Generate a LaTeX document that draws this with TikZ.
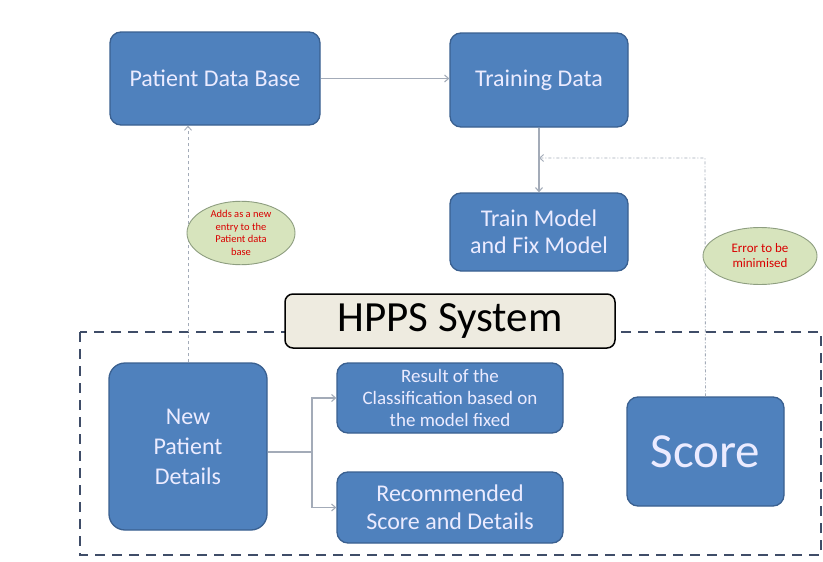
\documentclass[tikz,border=0pt]{standalone}
\usepackage{fontspec}
\setmainfont{Carlito}
\usetikzlibrary{arrows.meta,shapes.geometric}
\definecolor{boxblue}{HTML}{4F81BD}
\definecolor{boxedge}{HTML}{3A6090}
\definecolor{ellfill}{HTML}{D7E4BD}
\definecolor{elledge}{HTML}{8E9E80}
\definecolor{conn}{HTML}{A3ABB8}
\definecolor{frame}{HTML}{3F4D68}
\definecolor{sysfill}{HTML}{EEEBE0}
\tikzset{
  bluebox/.style={draw=boxedge, line width=1.3pt, fill=boxblue, rounded corners=11pt,
    text=white!92!blue, align=center, inner sep=0pt},
  note/.style={ellipse, draw=elledge, line width=0.9pt, fill=ellfill, text=red!85!black,
    align=center, inner sep=0pt},
  conline/.style={draw=conn, line width=1.1pt},
  arr/.style={-{Straight Barb[length=4pt,width=7pt]}},
}
\begin{document}
\begin{tikzpicture}[x=1pt,y=-1pt]
\useasboundingbox (0,0) rectangle (823,562);
\fill[white] (0,0) rectangle (823,562);
% dashed system frame
\draw[frame, line width=2.2pt, dash pattern=on 10pt off 7pt] (80,332) rectangle (821,555);
% nodes
\node[bluebox, minimum width=210, minimum height=93, font=\fontsize{24}{28}\selectfont] (pdb) at (215,78.5) {Patient Data Base};
\node[bluebox, minimum width=178, minimum height=94, font=\fontsize{24}{28}\selectfont] (td) at (539,80) {Training Data};
\node[bluebox, minimum width=178, minimum height=78, font=\fontsize{24}{27}\selectfont] (tm) at (539,232) {Train Model\\and Fix Model};
\node[draw=black, line width=1.5pt, fill=sysfill, rounded corners=8pt, minimum width=330, minimum height=54, inner sep=0pt, font=\fontsize{43}{48}\selectfont] (sys) at (450,321) {HPPS System};
\node[bluebox, minimum width=158, minimum height=167, rounded corners=16pt, font=\fontsize{24}{30}\selectfont] (npd) at (188,446.5) {New\\Patient\\Details};
\node[bluebox, minimum width=226, minimum height=70, font=\fontsize{19}{22}\selectfont] (res) at (450,398) {Result of the\\Classification based on\\the model fixed};
\node[bluebox, minimum width=226, minimum height=71, font=\fontsize{24}{28}\selectfont] (rec) at (450,507.5) {Recommended\\Score and Details};
\node[bluebox, minimum width=157, minimum height=109, font=\fontsize{49}{56}\selectfont] (score) at (705.5,451.5) {Score};
% connectors
\draw[conline, arr] (pdb.east) -- (td.west |- pdb.east);
\draw[conline, arr] (td.south) -- (tm.north);
\coordinate (split) at (312,452);
\draw[conline] (npd.east |- split) -- (split);
\draw[conline, arr] (split) |- (res.west);
\draw[conline, arr] (split) |- (rec.west);
\draw[conn, line width=0.9pt, dashed, arr] (npd.north) -- (npd.north |- pdb.south);
\coordinate (corner) at (705,158);
\draw[conn, line width=0.9pt, dash pattern=on 3pt off 2pt on 1pt off 2pt, arr] (score.north) -- (corner) -- (td.south |- corner);
% notes
\node[note, minimum width=108, minimum height=62, font=\fontsize{10.5}{12.5}\selectfont] (n1) at (241,233) {Adds as a new\\entry to the\\Patient data\\base};
\node[note, minimum width=114, minimum height=57, font=\fontsize{13}{15}\selectfont] (n2) at (760,256) {Error to be\\minimised};
\end{tikzpicture}
\end{document}
